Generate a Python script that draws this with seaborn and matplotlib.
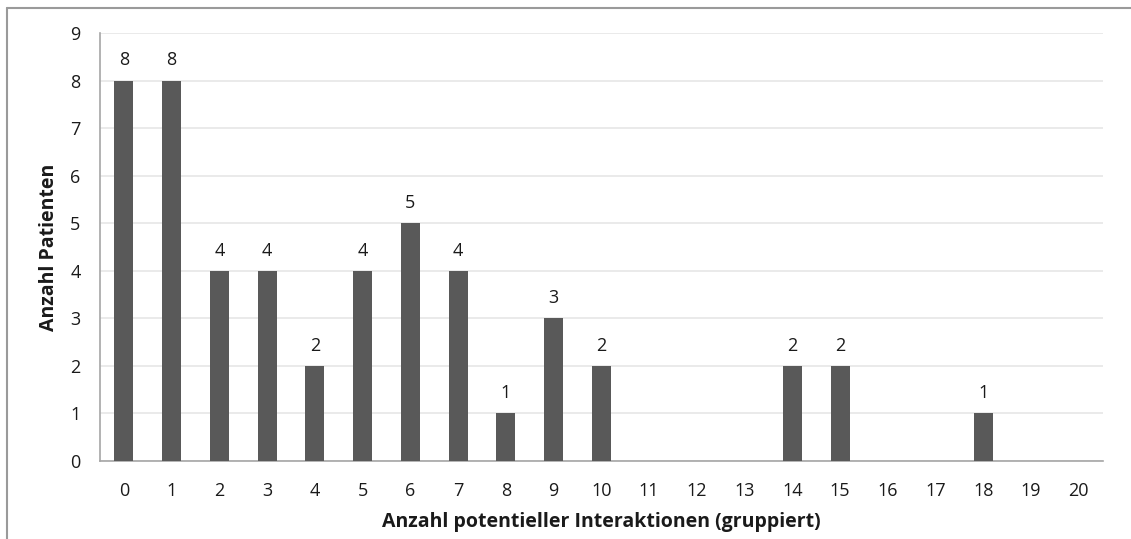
import pandas as pd
import matplotlib.pyplot as plt
import seaborn as sns
from matplotlib.lines import Line2D

interaktionen = [str(i) for i in range(21)]
patienten = [8, 8, 4, 4, 2, 4, 5, 4, 1, 3, 2, 0, 0, 0, 2, 2, 0, 0, 1, 0, 0]

df = pd.DataFrame({"interaktionen": interaktionen, "patienten": patienten})

sns.set_style("white")
plt.rcParams['font.family'] = ['Open Sans', 'DejaVu Sans']

fig = plt.figure(figsize=(11.31, 5.39), dpi=100)
ax = fig.add_axes([0.0884, 0.1447, 0.8866, 0.7941])

sns.barplot(data=df, x="interaktionen", y="patienten", order=interaktionen,
            color="#595959", width=0.4, saturation=1, linewidth=0, ax=ax, zorder=3)

# labels only over bars that exist
for bar, v in zip(ax.patches, patienten):
    if v > 0:
        ax.annotate(str(v), (bar.get_x() + bar.get_width() / 2, v),
                    xytext=(0, 8), textcoords="offset points",
                    ha="center", va="bottom", fontsize=13, color="#1a1a1a")

ax.set_ylim(0, 9)
ax.set_xlim(-0.5, 20.5)
ax.set_yticks(range(10))
ax.yaxis.grid(True, color="#e6e6e6", linewidth=1.2, zorder=0)
ax.set_axisbelow(True)
for side in ["top", "right"]:
    ax.spines[side].set_visible(False)
for side in ["left", "bottom"]:
    ax.spines[side].set_color("#a6a6a6")
    ax.spines[side].set_linewidth(1.2)
ax.tick_params(axis="both", length=0, labelsize=13, colors="#1a1a1a")
ax.tick_params(axis="x", pad=15)
ax.tick_params(axis="y", pad=14)

ax.set_xlabel("Anzahl potentieller Interaktionen (gruppiert)", fontsize=14,
              fontweight="bold", labelpad=9, color="#1a1a1a")
ax.set_ylabel("Anzahl Patienten", fontsize=14, fontweight="bold",
              labelpad=8, color="#1a1a1a")

# outer chart frame (cut at right and bottom)
fig.add_artist(Line2D([7 / 1131, 7 / 1131], [0, 1 - 8 / 539],
                      transform=fig.transFigure, color="#9a9a9a", linewidth=1.5))
fig.add_artist(Line2D([7 / 1131, 1], [1 - 8 / 539, 1 - 8 / 539],
                      transform=fig.transFigure, color="#9a9a9a", linewidth=1.5))

fig.savefig("out.png", dpi=100)
